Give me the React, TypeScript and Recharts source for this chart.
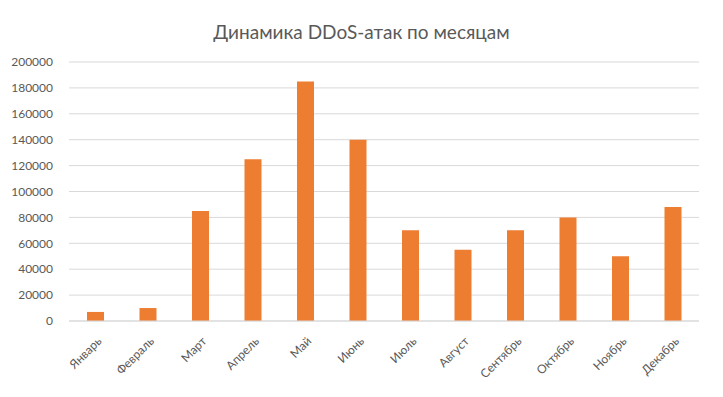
import React from 'react';
import { BarChart, Bar, XAxis, YAxis, CartesianGrid } from 'recharts';

const months = ['Январь', 'Февраль', 'Март', 'Апрель', 'Май', 'Июнь', 'Июль', 'Август', 'Сентябрь', 'Октябрь', 'Ноябрь', 'Декабрь'];
const attacks = [7000, 10000, 85000, 125000, 185000, 140000, 70000, 55000, 70000, 80000, 50000, 88000];
const yTicks = [0, 20000, 40000, 60000, 80000, 100000, 120000, 140000, 160000, 180000, 200000];
const title = 'Динамика DDoS-атак по месяцам';

const data = months.map((m, i) => ({ month: m, value: attacks[i] }));

const FONT = 'Lato, "Open Sans", sans-serif';

const XTick = (props: any) => {
  const { x, y, payload } = props;
  return (
    <g transform={`translate(${x + 4},${y + 10}) rotate(-45)`}>
      <text x={0} y={0} dy="0.35em" textAnchor="end" fill="#595959" fontSize={12} fontFamily={FONT}>
        {payload.value}
      </text>
    </g>
  );
};

export default function App() {
  return (
    <div style={{ position: 'relative', width: 723, height: 397, margin: -8, background: '#f2f2f2', overflow: 'hidden' }}>
      <div style={{ position: 'absolute', left: 4, top: 6, width: 710, height: 383, background: '#fff', border: '1px solid #d9d9d9' }} />
      <div style={{ position: 'absolute', left: 0, top: 20, width: 723, textAlign: 'center', fontFamily: FONT, fontSize: 19, color: '#595959' }}>
        {title}
      </div>
      <div style={{ position: 'absolute', left: 0, top: 0 }}>
        <BarChart width={723} height={397} data={data} margin={{ top: 62, right: 24, left: 0, bottom: 0 }}>
          <CartesianGrid vertical={false} stroke="#d9d9d9" />
          <XAxis dataKey="month" height={76} axisLine={{ stroke: '#d9d9d9' }} tickLine={false} tick={<XTick />} interval={0} />
          <YAxis width={69} domain={[0, 200000]} ticks={yTicks} axisLine={false} tickLine={false} tick={{ fill: '#595959', fontSize: 12, fontFamily: FONT }} tickMargin={10} interval={0} />
          <Bar dataKey="value" fill="#ED7D31" barSize={17} isAnimationActive={false} />
        </BarChart>
      </div>
    </div>
  );
}
